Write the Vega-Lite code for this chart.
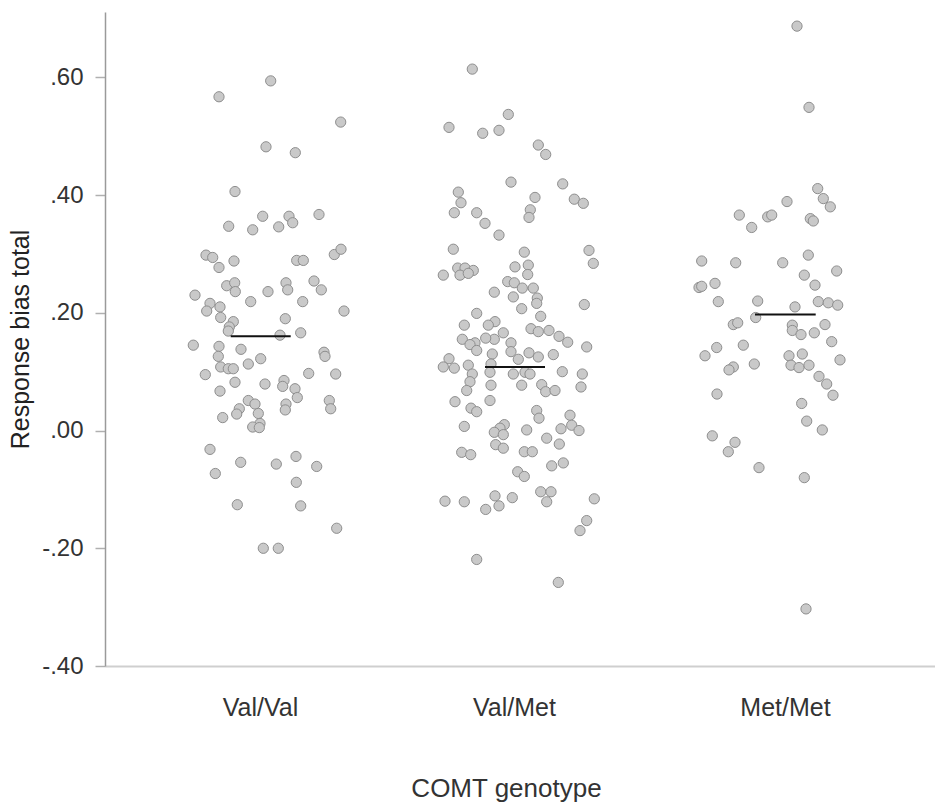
{
  "$schema": "https://vega.github.io/schema/vega-lite/v6.json",
  "width": 830,
  "height": 654,
  "autosize": {"type": "none"},
  "padding": {"left": 105, "top": 12, "right": 0, "bottom": 140},
  "background": "white",
  "config": {
    "view": {"stroke": null},
    "font": "Liberation Sans",
    "axis": {"grid": false, "labelFont": "Liberation Sans", "titleFont": "Liberation Sans", "titleFontWeight": "normal"}
  },
  "datasets": {
    "pts": [
      {"g":"Val/Val","x":270.7,"y":0.594},{"g":"Val/Val","x":219,"y":0.567},{"g":"Val/Val","x":340.7,"y":0.524},{"g":"Val/Val","x":266,"y":0.482},{"g":"Val/Val","x":295.3,"y":0.472},{"g":"Val/Val","x":235,"y":0.406},{"g":"Val/Val","x":262.7,"y":0.364},{"g":"Val/Val","x":289,"y":0.364},{"g":"Val/Val","x":319,"y":0.367},{"g":"Val/Val","x":228.7,"y":0.347},
      {"g":"Val/Val","x":252.7,"y":0.341},{"g":"Val/Val","x":278.7,"y":0.346},{"g":"Val/Val","x":292.7,"y":0.353},{"g":"Val/Val","x":206,"y":0.298},{"g":"Val/Val","x":212.7,"y":0.294},{"g":"Val/Val","x":219,"y":0.277},{"g":"Val/Val","x":234,"y":0.288},{"g":"Val/Val","x":296.7,"y":0.289},{"g":"Val/Val","x":303.3,"y":0.289},{"g":"Val/Val","x":334.3,"y":0.299},
      {"g":"Val/Val","x":341,"y":0.308},{"g":"Val/Val","x":226.7,"y":0.246},{"g":"Val/Val","x":234.7,"y":0.251},{"g":"Val/Val","x":235.3,"y":0.236},{"g":"Val/Val","x":268,"y":0.236},{"g":"Val/Val","x":286,"y":0.251},{"g":"Val/Val","x":287.7,"y":0.239},{"g":"Val/Val","x":314,"y":0.254},{"g":"Val/Val","x":321.3,"y":0.239},{"g":"Val/Val","x":195,"y":0.230},
      {"g":"Val/Val","x":210,"y":0.216},{"g":"Val/Val","x":220,"y":0.210},{"g":"Val/Val","x":206.7,"y":0.203},{"g":"Val/Val","x":250.7,"y":0.219},{"g":"Val/Val","x":302.7,"y":0.219},{"g":"Val/Val","x":344,"y":0.203},{"g":"Val/Val","x":220.7,"y":0.192},{"g":"Val/Val","x":233.3,"y":0.185},{"g":"Val/Val","x":229.3,"y":0.176},{"g":"Val/Val","x":285.3,"y":0.190},
      {"g":"Val/Val","x":228.3,"y":0.169},{"g":"Val/Val","x":280,"y":0.162},{"g":"Val/Val","x":300.7,"y":0.166},{"g":"Val/Val","x":193.3,"y":0.145},{"g":"Val/Val","x":219,"y":0.143},{"g":"Val/Val","x":241,"y":0.138},{"g":"Val/Val","x":218.3,"y":0.126},{"g":"Val/Val","x":260.7,"y":0.122},{"g":"Val/Val","x":248.3,"y":0.113},{"g":"Val/Val","x":324,"y":0.133},
      {"g":"Val/Val","x":325,"y":0.126},{"g":"Val/Val","x":220.7,"y":0.108},{"g":"Val/Val","x":228.3,"y":0.105},{"g":"Val/Val","x":233.3,"y":0.105},{"g":"Val/Val","x":205.3,"y":0.095},{"g":"Val/Val","x":235,"y":0.082},{"g":"Val/Val","x":265,"y":0.079},{"g":"Val/Val","x":284,"y":0.085},{"g":"Val/Val","x":282.7,"y":0.075},{"g":"Val/Val","x":295,"y":0.071},
      {"g":"Val/Val","x":297.3,"y":0.056},{"g":"Val/Val","x":308.7,"y":0.097},{"g":"Val/Val","x":335.7,"y":0.096},{"g":"Val/Val","x":220,"y":0.067},{"g":"Val/Val","x":248.3,"y":0.051},{"g":"Val/Val","x":255,"y":0.045},{"g":"Val/Val","x":239.3,"y":0.037},{"g":"Val/Val","x":236.7,"y":0.028},{"g":"Val/Val","x":258.3,"y":0.029},{"g":"Val/Val","x":286,"y":0.045},
      {"g":"Val/Val","x":285.3,"y":0.035},{"g":"Val/Val","x":329.3,"y":0.051},{"g":"Val/Val","x":330.7,"y":0.037},{"g":"Val/Val","x":222.7,"y":0.022},{"g":"Val/Val","x":260,"y":0.012},{"g":"Val/Val","x":252.7,"y":0.006},{"g":"Val/Val","x":259.3,"y":0.005},{"g":"Val/Val","x":210,"y":-0.032},{"g":"Val/Val","x":240.7,"y":-0.054},{"g":"Val/Val","x":276.3,"y":-0.057},
      {"g":"Val/Val","x":296,"y":-0.044},{"g":"Val/Val","x":316.7,"y":-0.061},{"g":"Val/Val","x":215.3,"y":-0.073},{"g":"Val/Val","x":296.3,"y":-0.088},{"g":"Val/Val","x":237.3,"y":-0.126},{"g":"Val/Val","x":300.7,"y":-0.128},{"g":"Val/Val","x":336.7,"y":-0.166},{"g":"Val/Val","x":263.3,"y":-0.200},{"g":"Val/Val","x":278.3,"y":-0.200},
      {"g":"Val/Met","x":472.3,"y":0.614},{"g":"Val/Met","x":508.3,"y":0.537},{"g":"Val/Met","x":449,"y":0.515},{"g":"Val/Met","x":482.7,"y":0.505},{"g":"Val/Met","x":499,"y":0.510},{"g":"Val/Met","x":538.3,"y":0.485},{"g":"Val/Met","x":545.7,"y":0.469},{"g":"Val/Met","x":511,"y":0.422},{"g":"Val/Met","x":562.7,"y":0.419},{"g":"Val/Met","x":458.3,"y":0.405},
      {"g":"Val/Met","x":461,"y":0.387},{"g":"Val/Met","x":454.3,"y":0.370},{"g":"Val/Met","x":476.7,"y":0.370},{"g":"Val/Met","x":485,"y":0.352},{"g":"Val/Met","x":535,"y":0.396},{"g":"Val/Met","x":530.3,"y":0.375},{"g":"Val/Met","x":529,"y":0.362},{"g":"Val/Met","x":574.3,"y":0.393},{"g":"Val/Met","x":583.3,"y":0.386},{"g":"Val/Met","x":499,"y":0.332},
      {"g":"Val/Met","x":453.3,"y":0.308},{"g":"Val/Met","x":524.3,"y":0.303},{"g":"Val/Met","x":589,"y":0.306},{"g":"Val/Met","x":593.3,"y":0.284},{"g":"Val/Met","x":443.3,"y":0.264},{"g":"Val/Met","x":457.7,"y":0.276},{"g":"Val/Met","x":465,"y":0.276},{"g":"Val/Met","x":473.3,"y":0.272},{"g":"Val/Met","x":460,"y":0.264},{"g":"Val/Met","x":468.3,"y":0.267},
      {"g":"Val/Met","x":515,"y":0.278},{"g":"Val/Met","x":528.3,"y":0.281},{"g":"Val/Met","x":527.7,"y":0.265},{"g":"Val/Met","x":507.7,"y":0.253},{"g":"Val/Met","x":514.3,"y":0.251},{"g":"Val/Met","x":522.3,"y":0.242},{"g":"Val/Met","x":533.3,"y":0.242},{"g":"Val/Met","x":494.3,"y":0.235},{"g":"Val/Met","x":513.3,"y":0.227},{"g":"Val/Met","x":537.3,"y":0.225},
      {"g":"Val/Met","x":536.7,"y":0.216},{"g":"Val/Met","x":584.3,"y":0.214},{"g":"Val/Met","x":521.7,"y":0.207},{"g":"Val/Met","x":476.7,"y":0.199},{"g":"Val/Met","x":540.7,"y":0.194},{"g":"Val/Met","x":495,"y":0.185},{"g":"Val/Met","x":488.3,"y":0.179},{"g":"Val/Met","x":464.3,"y":0.179},{"g":"Val/Met","x":531,"y":0.173},{"g":"Val/Met","x":538.3,"y":0.168},
      {"g":"Val/Met","x":549,"y":0.170},{"g":"Val/Met","x":503.3,"y":0.166},{"g":"Val/Met","x":494.3,"y":0.155},{"g":"Val/Met","x":485.7,"y":0.157},{"g":"Val/Met","x":462.3,"y":0.155},{"g":"Val/Met","x":559,"y":0.160},{"g":"Val/Met","x":567.7,"y":0.150},{"g":"Val/Met","x":475,"y":0.149},{"g":"Val/Met","x":470,"y":0.146},{"g":"Val/Met","x":511,"y":0.149},
      {"g":"Val/Met","x":476.7,"y":0.136},{"g":"Val/Met","x":586.7,"y":0.142},{"g":"Val/Met","x":511,"y":0.134},{"g":"Val/Met","x":492.3,"y":0.130},{"g":"Val/Met","x":529,"y":0.132},{"g":"Val/Met","x":538.3,"y":0.125},{"g":"Val/Met","x":553.3,"y":0.129},{"g":"Val/Met","x":449,"y":0.122},{"g":"Val/Met","x":443.3,"y":0.108},{"g":"Val/Met","x":454.3,"y":0.106},
      {"g":"Val/Met","x":468.3,"y":0.111},{"g":"Val/Met","x":518.3,"y":0.121},{"g":"Val/Met","x":491,"y":0.113},{"g":"Val/Met","x":472.3,"y":0.096},{"g":"Val/Met","x":490,"y":0.099},{"g":"Val/Met","x":513.3,"y":0.096},{"g":"Val/Met","x":525,"y":0.099},{"g":"Val/Met","x":530,"y":0.096},{"g":"Val/Met","x":562.3,"y":0.100},{"g":"Val/Met","x":582.3,"y":0.096},
      {"g":"Val/Met","x":470,"y":0.083},{"g":"Val/Met","x":491,"y":0.077},{"g":"Val/Met","x":521.7,"y":0.077},{"g":"Val/Met","x":541.7,"y":0.078},{"g":"Val/Met","x":466.7,"y":0.068},{"g":"Val/Met","x":545.7,"y":0.066},{"g":"Val/Met","x":555,"y":0.068},{"g":"Val/Met","x":581,"y":0.074},{"g":"Val/Met","x":455,"y":0.049},{"g":"Val/Met","x":490,"y":0.051},
      {"g":"Val/Met","x":471,"y":0.038},{"g":"Val/Met","x":476.7,"y":0.032},{"g":"Val/Met","x":536.7,"y":0.034},{"g":"Val/Met","x":539,"y":0.021},{"g":"Val/Met","x":570,"y":0.026},{"g":"Val/Met","x":464.3,"y":0.007},{"g":"Val/Met","x":504.3,"y":0.010},{"g":"Val/Met","x":500,"y":0.004},{"g":"Val/Met","x":494.3,"y":-0.003},{"g":"Val/Met","x":503.3,"y":-0.007},
      {"g":"Val/Met","x":526.7,"y":0.001},{"g":"Val/Met","x":561,"y":0.003},{"g":"Val/Met","x":571.7,"y":0.009},{"g":"Val/Met","x":579,"y":0.000},{"g":"Val/Met","x":546.7,"y":-0.013},{"g":"Val/Met","x":559.3,"y":-0.023},{"g":"Val/Met","x":495.7,"y":-0.024},{"g":"Val/Met","x":503.3,"y":-0.030},{"g":"Val/Met","x":461.7,"y":-0.037},{"g":"Val/Met","x":470.7,"y":-0.041},
      {"g":"Val/Met","x":524.3,"y":-0.036},{"g":"Val/Met","x":532.3,"y":-0.036},{"g":"Val/Met","x":551.7,"y":-0.060},{"g":"Val/Met","x":563.3,"y":-0.055},{"g":"Val/Met","x":517.7,"y":-0.070},{"g":"Val/Met","x":524.3,"y":-0.078},{"g":"Val/Met","x":445,"y":-0.120},{"g":"Val/Met","x":464.3,"y":-0.121},{"g":"Val/Met","x":495,"y":-0.111},{"g":"Val/Met","x":512.3,"y":-0.114},
      {"g":"Val/Met","x":499,"y":-0.128},{"g":"Val/Met","x":485.7,"y":-0.134},{"g":"Val/Met","x":540.7,"y":-0.104},{"g":"Val/Met","x":551,"y":-0.104},{"g":"Val/Met","x":546.7,"y":-0.121},{"g":"Val/Met","x":594.3,"y":-0.116},{"g":"Val/Met","x":586.7,"y":-0.153},{"g":"Val/Met","x":580,"y":-0.170},{"g":"Val/Met","x":476.7,"y":-0.219},{"g":"Val/Met","x":558.3,"y":-0.258},
      {"g":"Met/Met","x":797,"y":0.687},{"g":"Met/Met","x":809,"y":0.549},{"g":"Met/Met","x":817.7,"y":0.411},{"g":"Met/Met","x":823.3,"y":0.394},{"g":"Met/Met","x":830.3,"y":0.380},{"g":"Met/Met","x":787,"y":0.389},{"g":"Met/Met","x":739.3,"y":0.366},{"g":"Met/Met","x":751.7,"y":0.345},{"g":"Met/Met","x":767.7,"y":0.363},{"g":"Met/Met","x":771.7,"y":0.366},
      {"g":"Met/Met","x":810.3,"y":0.360},{"g":"Met/Met","x":813.3,"y":0.356},{"g":"Met/Met","x":701.7,"y":0.288},{"g":"Met/Met","x":735.7,"y":0.285},{"g":"Met/Met","x":782.7,"y":0.285},{"g":"Met/Met","x":808.3,"y":0.298},{"g":"Met/Met","x":836.7,"y":0.271},{"g":"Met/Met","x":804.3,"y":0.264},{"g":"Met/Met","x":699,"y":0.243},{"g":"Met/Met","x":701.7,"y":0.245},
      {"g":"Met/Met","x":715,"y":0.250},{"g":"Met/Met","x":718.3,"y":0.219},{"g":"Met/Met","x":757.7,"y":0.220},{"g":"Met/Met","x":815,"y":0.247},{"g":"Met/Met","x":795,"y":0.210},{"g":"Met/Met","x":818.3,"y":0.219},{"g":"Met/Met","x":828.3,"y":0.217},{"g":"Met/Met","x":837.7,"y":0.213},{"g":"Met/Met","x":755.7,"y":0.192},{"g":"Met/Met","x":733.3,"y":0.180},
      {"g":"Met/Met","x":737.7,"y":0.183},{"g":"Met/Met","x":792.3,"y":0.179},{"g":"Met/Met","x":792.3,"y":0.170},{"g":"Met/Met","x":801,"y":0.163},{"g":"Met/Met","x":814.3,"y":0.166},{"g":"Met/Met","x":825,"y":0.180},{"g":"Met/Met","x":831.7,"y":0.151},{"g":"Met/Met","x":743.3,"y":0.145},{"g":"Met/Met","x":716.7,"y":0.141},{"g":"Met/Met","x":705,"y":0.127},
      {"g":"Met/Met","x":789,"y":0.127},{"g":"Met/Met","x":802.3,"y":0.130},{"g":"Met/Met","x":791,"y":0.111},{"g":"Met/Met","x":799,"y":0.107},{"g":"Met/Met","x":809,"y":0.111},{"g":"Met/Met","x":754.3,"y":0.113},{"g":"Met/Met","x":733.3,"y":0.108},{"g":"Met/Met","x":729,"y":0.103},{"g":"Met/Met","x":840,"y":0.120},{"g":"Met/Met","x":819,"y":0.092},
      {"g":"Met/Met","x":826.7,"y":0.079},{"g":"Met/Met","x":833,"y":0.060},{"g":"Met/Met","x":717,"y":0.062},{"g":"Met/Met","x":801.7,"y":0.046},{"g":"Met/Met","x":806.7,"y":0.016},{"g":"Met/Met","x":822.3,"y":0.001},{"g":"Met/Met","x":712.3,"y":-0.009},{"g":"Met/Met","x":735,"y":-0.020},{"g":"Met/Met","x":728.3,"y":-0.036},{"g":"Met/Met","x":759,"y":-0.063},
      {"g":"Met/Met","x":804.3,"y":-0.080},{"g":"Met/Met","x":806,"y":-0.303}
    ],
    "means": [
      {"g":"Val/Val","x1":230.7,"x2":290.7,"mean":0.160},
      {"g":"Val/Met","x1":485,"x2":545,"mean":0.108},
      {"g":"Met/Met","x1":755,"x2":815.7,"mean":0.197}
    ]
  },
  "layer": [
    {
      "data": {"name": "pts"},
      "mark": {"type": "point", "shape": "circle", "filled": true, "fill": "#c9c9c9", "stroke": "#8e8e8e", "strokeWidth": 1, "size": 105, "opacity": 1},
      "encoding": {
        "x": {
          "field": "x", "type": "quantitative",
          "scale": {"domain": [105, 935], "nice": false, "zero": false},
          "axis": {
            "values": [260, 514, 785],
            "labelExpr": "datum.value < 400 ? 'Val/Val' : datum.value < 650 ? 'Val/Met' : 'Met/Met'",
            "ticks": false, "tickSize": 0,
            "domainColor": "#cfcfcf", "domainWidth": 2,
            "labelFontSize": 25, "labelColor": "#333333", "labelPadding": 29,
            "title": "COMT genotype", "titleFontSize": 26, "titleColor": "#333333", "titlePadding": 55, "titleX": 401
          }
        },
        "y": {
          "field": "y", "type": "quantitative",
          "scale": {"domain": [-0.4, 0.711], "nice": false, "zero": false},
          "axis": {
            "values": [-0.4, -0.2, 0, 0.2, 0.4, 0.6],
            "labelExpr": "(datum.value < 0 ? '-' : '') + replace(format(abs(datum.value), '.2f'), '0.', '.')",
            "tickSize": 10, "tickColor": "#b0b0b0", "tickWidth": 1.5,
            "domainColor": "#9a9a9a", "domainWidth": 1.5,
            "labelFontSize": 24, "labelColor": "#333333", "labelPadding": 12,
            "title": "Response bias total", "titleFontSize": 25, "titleColor": "#222222", "titlePadding": 8
          }
        }
      }
    },
    {
      "data": {"name": "means"},
      "mark": {"type": "rule", "color": "#111111", "strokeWidth": 2},
      "encoding": {
        "x": {"field": "x1", "type": "quantitative"},
        "x2": {"field": "x2"},
        "y": {"field": "mean", "type": "quantitative"}
      }
    }
  ]
}
